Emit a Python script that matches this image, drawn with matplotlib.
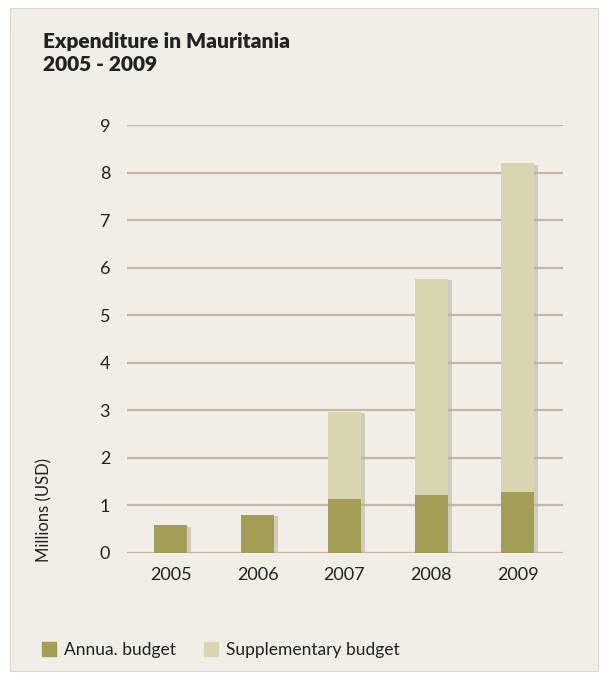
import matplotlib.pyplot as plt
import matplotlib.patches as mpatches
import matplotlib.patheffects as pe
import numpy as np

years = ["2005", "2006", "2007", "2008", "2009"]
annual = [0.58, 0.80, 1.14, 1.22, 1.28]
supplementary = [0.0, 0.0, 1.83, 4.55, 6.92]

annual_color = "#a39d55"
supp_color = "#d8d5b0"
grid_color = "#c8b6a2"
panel_color = "#f1ede7"

plt.rcParams['font.family'] = ['Lato', 'DejaVu Sans']

fig = plt.figure(figsize=(6.04, 6.79), dpi=100)
fig.patch.set_facecolor("white")
# paper panel behind everything (flat colour instead of texture)
fig.patches.append(mpatches.Rectangle((10 / 604, 8 / 679), 588 / 604, 663 / 679,
                                      transform=fig.transFigure, facecolor=panel_color,
                                      edgecolor="#dcd8d2", linewidth=0.8, zorder=-10))

ax = fig.add_axes([0.210, 0.1856, 0.722, 0.630])
ax.set_facecolor("none")

x = np.arange(len(years))
total = np.array(annual) + np.array(supplementary)

# one shadowed bar per column underneath, so the shadow never crosses the stack
shadow = [pe.SimplePatchShadow(offset=(3, -1), shadow_rgbFace="#b5b1a6", alpha=0.55), pe.Normal()]
back = ax.bar(x, total, width=0.38, color=supp_color, zorder=2)
for b in back:
    b.set_path_effects(shadow)
ax.bar(x, annual, width=0.38, color=annual_color, zorder=3)
ax.bar(x, supplementary, width=0.38, bottom=annual, color=supp_color, zorder=3)

ax.set_xlim(-0.507, 4.52)
ax.set_ylim(0, 9)
ax.set_yticks(range(0, 10))
ax.yaxis.grid(True, color=grid_color, linewidth=1.6)
ax.set_axisbelow(True)
for s in ax.spines.values():
    s.set_visible(False)
ax.tick_params(length=0, labelsize=13, colors="#222222")
ax.tick_params(axis="y", pad=12)
ax.tick_params(axis="x", pad=10)
ax.set_xticks(x)
ax.set_xticklabels(years)
ax.set_ylabel("Millions (USD)", fontsize=12, color="#222222")
ax.yaxis.set_label_coords(-0.17, 0.1)

fig.text(43 / 604, 1 - 53 / 679, "Expenditure in Mauritania\n2005 - 2009",
         fontsize=15, fontweight="heavy", color="#222222", va="center", linespacing=1.3)

handles = [mpatches.Patch(color=annual_color, label="Annua. budget"),
           mpatches.Patch(color=supp_color, label="Supplementary budget")]
fig.legend(handles=handles, loc="center left", bbox_to_anchor=(26 / 604, 1 - 650 / 679),
           ncol=2, frameon=False, fontsize=12.5, handlelength=0.8, handleheight=0.8,
           columnspacing=1.6, handletextpad=0.5, labelcolor="#222222")

fig.savefig("out.png", dpi=100)
